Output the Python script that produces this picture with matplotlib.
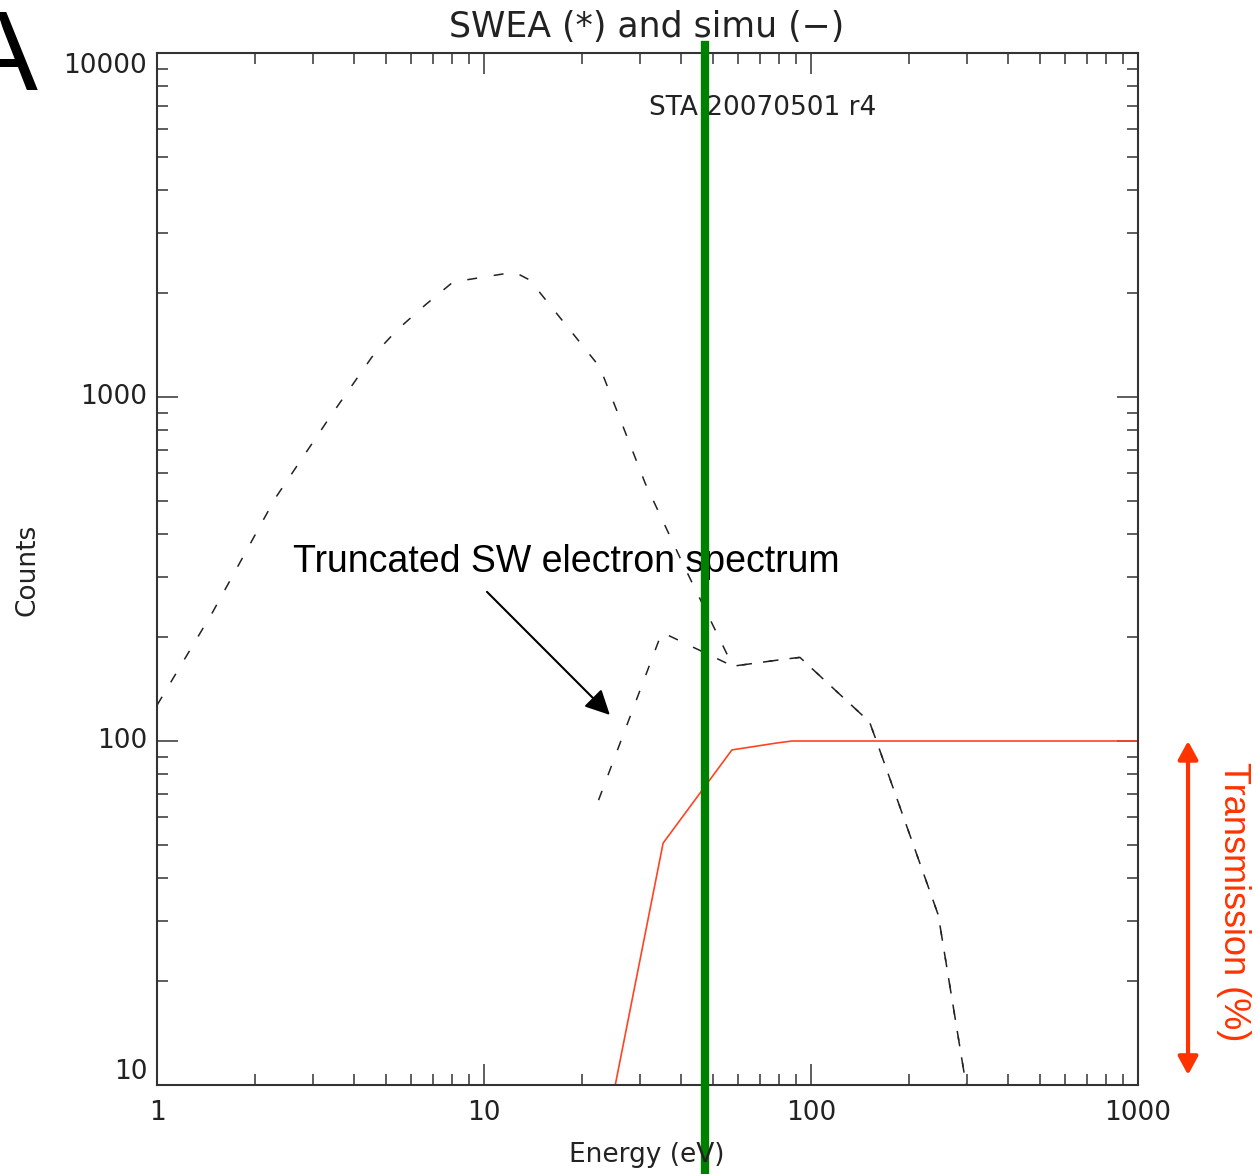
import matplotlib
matplotlib.use("Agg")
import matplotlib.pyplot as plt
from matplotlib.ticker import NullFormatter

# SWEA spectrum (full) - energy in eV, counts
e_full = [1.0, 1.48, 2.30, 3.38, 4.54, 5.42, 6.60, 8.04, 12.4, 13.8, 22.6,
          31.1, 40.6, 57.7, 83.3, 92.5, 151, 159, 245, 298]
c_full = [127, 237, 508, 875, 1306, 1566, 1849, 2159, 2307, 2188, 1222,
          562, 327, 165, 173, 175, 113.6, 99.3, 31.2, 10]

# truncated SW electron spectrum
e_trunc = [22.4, 35.0, 57.7, 83.3, 92.5, 151, 159, 245, 298]
c_trunc = [67.3, 207, 165, 173, 175, 113.6, 99.3, 31.2, 10]

# transmission curve (%)
e_trans = [25.2, 35.3, 57.3, 78.7, 87.5, 1000]
t_trans = [10, 50.5, 94.2, 98.7, 100, 100]

e_cut = 47.4   # green vertical marker

yticks = [10, 100, 1000, 10000]
ytick_labels = ["10", "100", "1000", "10000"]
xticks = [1, 10, 100, 1000]
xtick_labels = ["1", "10", "100", "1000"]

W, H = 1256, 1174
fig = plt.figure(figsize=(W / 100, H / 100), dpi=100)
ax = fig.add_axes([157 / W, 89 / H, 981 / W, 1032 / H])

ax.set_xscale("log")
ax.set_yscale("log")
ax.set_xlim(1, 1000)
ax.set_ylim(10, 10000)

dash = (0, (6.5, 11))
ax.plot(e_full, c_full, color="#222222", lw=1.1, ls=dash)
ax.plot(e_trunc, c_trunc, color="#222222", lw=1.1, ls=dash)
ax.plot(e_trans, t_trans, color="#ff4422", lw=1.2)

# axes styling (IDL look)
axcol = "#333333"
for s in ax.spines.values():
    s.set_color(axcol)
    s.set_linewidth(1.5)
ax.tick_params(which="both", direction="in", top=True, right=True,
               color=axcol, width=1.1)
ax.tick_params(which="major", length=15)
ax.tick_params(which="minor", length=8)
ax.set_xticks(xticks)
ax.set_xticklabels(xtick_labels, fontsize=19, color="#222222")
ax.set_yticks(yticks)
ax.set_yticklabels(ytick_labels, fontsize=19, color="#222222")
ax.xaxis.set_minor_formatter(NullFormatter())
ax.yaxis.set_minor_formatter(NullFormatter())
ax.tick_params(axis="x", which="major", pad=11)
ax.tick_params(axis="y", which="major", pad=7)
vas = ["bottom", "center", "center", "top"]
for t, va in zip(ax.yaxis.get_major_ticks(), vas):
    t.label1.set_verticalalignment(va)

fig.text(647 / W, 1 - 27 / H, "SWEA (*) and simu (\u2212)", ha="center",
         va="center", fontsize=25, color="#222222")
fig.text(647 / W, 1 - 1155 / H, "Energy (eV)", ha="center", va="center",
         fontsize=19, color="#222222")
fig.text(27 / W, 1 - 570 / H, "Counts", ha="center", va="center",
         rotation=90, fontsize=19, color="#222222")
ax.text(0.617, 0.947, "STA 20070501 r4", transform=ax.transAxes,
        ha="center", va="center", fontsize=19, color="#222222")

# annotation
ax.text(17.8, 310, "Truncated SW electron spectrum", ha="center",
        va="baseline", fontsize=27, family="Liberation Sans", color="black")
ax.annotate("", xy=(24.6, 117.5), xytext=(10.07, 275),
            arrowprops=dict(arrowstyle="-|>,head_length=0.6,head_width=0.3",
                            lw=1.5, color="black", mutation_scale=25))

# transmission arrow and label
tcol = "#ff3300"
ax.annotate("", xy=(1.051, 100), xytext=(1.051, 10.7),
            xycoords=("axes fraction", "data"),
            textcoords=("axes fraction", "data"), annotation_clip=False,
            arrowprops=dict(arrowstyle="<|-|>,head_length=0.55,head_width=0.3",
                            lw=3, color=tcol, mutation_scale=20,
                            shrinkA=0, shrinkB=0))
fig.text(1233 / W, 1 - 902 / H, "Transmission (%)", rotation=-90,
         ha="center", va="center", fontsize=26, family="Liberation Sans",
         color=tcol)

fig.text(38 / W, 1 - 90 / H, "A", ha="right", va="baseline", fontsize=82,
         family="Liberation Sans", color="black")

ax.axvline(e_cut, ymin=-0.09, ymax=1.008, color="#008000", lw=6,
           clip_on=False, zorder=10)

fig.savefig("out.png", dpi=100)
